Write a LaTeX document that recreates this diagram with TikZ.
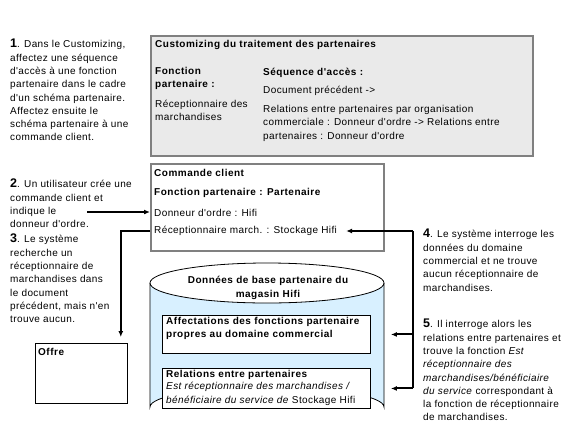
\documentclass[tikz,border=0pt]{standalone}
\usepackage{fontspec}
\setmainfont{Liberation Sans}[Ligatures=TeXOff,LetterSpace=4,BoldFeatures={LetterSpace=5}]
\usetikzlibrary{arrows.meta,positioning}
\definecolor{CustGray}{HTML}{EAEAEA}
\definecolor{EdgeGray}{HTML}{808080}
\definecolor{CylBlue}{HTML}{D8F0FF}
\newcommand{\stepnum}[1]{{\fontsize{12.5}{13}\selectfont\bfseries #1}}
\tikzset{
  note/.style={anchor=north west,align=left,inner sep=0pt,font=\fontsize{10}{13.3}\selectfont},
  txt/.style={anchor=west,inner sep=0pt,align=left,font=\fontsize{10}{13.5}\selectfont},
  frame/.style={draw=EdgeGray,line width=2pt,anchor=north west,inner sep=0pt},
  ibox/.style={draw,line width=0.9pt,fill=white,anchor=north west,inner sep=0pt},
  link/.style={line width=2pt,-{Latex[length=6pt,width=5pt]}},
}
\begin{document}
\begin{tikzpicture}[x=1pt,y=-1pt]
  \useasboundingbox (0,0) rectangle (576,432);
  % notes on the left and right
  \node[note] (note1) at (10,39) {\stepnum{1}. Dans le Customizing,\\affectez une séquence\\d'accès à une fonction\\partenaire dans le cadre\\d'un schéma partenaire.\\Affectez ensuite le\\schéma partenaire à une\\commande client.};
  \node[note] (note2) at (10,179) {\stepnum{2}. Un utilisateur crée une\\commande client et\\indique le\\donneur d'ordre.};
  \node[note] (note3) at (10,234) {\stepnum{3}. Le système\\recherche un\\réceptionnaire de\\marchandises dans\\le document\\précédent, mais n'en\\trouve aucun.};
  \node[note] (note4) at (423,229) {\stepnum{4}. Le système interroge les\\données du domaine\\commercial et ne trouve\\aucun réceptionnaire de\\marchandises.};
  \node[note] (note5) at (423,319) {\stepnum{5}. Il interroge alors les\\relations entre partenaires et\\trouve la fonction \textit{Est}\\\textit{réceptionnaire des}\\\textit{marchandises/bénéficiaire}\\\textit{du service} correspondant à\\la fonction de réceptionnaire\\de marchandises.};

  % customizing
  \node[frame,fill=CustGray,minimum width=382pt,minimum height=120pt] (cust) at (150,35) {};
  \node[txt,font=\fontsize{10}{13}\selectfont\bfseries] (custtitle) at (155,45) {Customizing du traitement des partenaires};
  \node[note,font=\fontsize{10}{13}\selectfont\bfseries] (fonct) at (155,67) {Fonction\\partenaire :};
  \node[note,font=\fontsize{10}{12.5}\selectfont] (fonctval) at (155,100) {Réceptionnaire des\\marchandises};
  \node[txt,font=\fontsize{10}{13}\selectfont\bfseries] (seq) at (263,73) {Séquence d'accès :};
  \node[txt] (seq1) at (263,91) {Document précédent ->};
  \node[note,font=\fontsize{10}{13.5}\selectfont] (seq2) at (263,105) {Relations entre partenaires par organisation\\commerciale : Donneur d'ordre -> Relations entre\\partenaires : Donneur d'ordre};

  % commande client
  \node[frame,fill=white,minimum width=233pt,minimum height=87pt] (cmd) at (150,163) {};
  \node[txt,font=\fontsize{10}{13}\selectfont\bfseries] (cmdtitle) at (154,173) {Commande client};
  \node[txt,font=\fontsize{10}{13}\selectfont\bfseries] (cmdfonct) at (154,193) {Fonction partenaire : Partenaire};
  \node[txt] (donneur) at (154,213) {Donneur d'ordre : Hifi};
  \node[txt] (recep) at (154,231) {Réceptionnaire march. : Stockage Hifi};

  % base de donnees
  \fill[CylBlue] (150,283) -- (150,407) arc[start angle=180,end angle=360,x radius=117,y radius=20]
    -- (384,283) arc[start angle=0,end angle=180,x radius=117,y radius=20] -- cycle;
  \draw[line width=0.8pt] (150,283) -- (150,407) arc[start angle=180,end angle=360,x radius=117,y radius=20] -- (384,283);
  \draw[line width=0.8pt] (267,283) ellipse[x radius=117,y radius=20];
  \node[align=center,inner sep=0pt,font=\fontsize{10}{14}\selectfont\bfseries] (cyl) at (268,288) {Données de base partenaire du\\magasin Hifi};
  \node[ibox,minimum width=208pt,minimum height=38pt] (box1) at (162,315) {};
  \node[note,font=\fontsize{10}{13.5}\selectfont\bfseries] (box1txt) at (166,317) {Affectations des fonctions partenaire\\propres au domaine commercial};
  \node[ibox,minimum width=208pt,minimum height=40pt] (box2) at (162,368) {};
  \node[txt,font=\fontsize{10}{13}\selectfont\bfseries] (box2title) at (166,375) {Relations entre partenaires};
  \node[note,font=\fontsize{10}{13.5}\selectfont] (box2txt) at (166,382) {\textit{Est réceptionnaire des marchandises /}\\\textit{bénéficiaire du service de} Stockage Hifi};

  % offre
  \node[ibox,line width=0.8pt,minimum width=92pt,minimum height=60pt] (offre) at (35,343) {};
  \node[txt,font=\fontsize{10}{13}\selectfont\bfseries] (offretitle) at (38,352) {Offre};

  % connectors
  \coordinate (from2) at (87,212);
  \draw[link] (from2) -- (from2 -| cmd.west);
  \draw[link] (cmd.west |- recep) -| ([xshift=-7pt,yshift=6pt]offre.north east);
  \coordinate (r4) at (413,231);
  \draw[link] (r4) -- ([xshift=9pt]recep.east);
  \draw[line width=2pt] (r4) -- (r4 |- box2.east);
  \draw[link] (r4 |- box1.east) -- ([xshift=20pt]box1.east);
  \draw[link] (r4 |- box2.east) -- ([xshift=20pt]box2.east);
\end{tikzpicture}
\end{document}
